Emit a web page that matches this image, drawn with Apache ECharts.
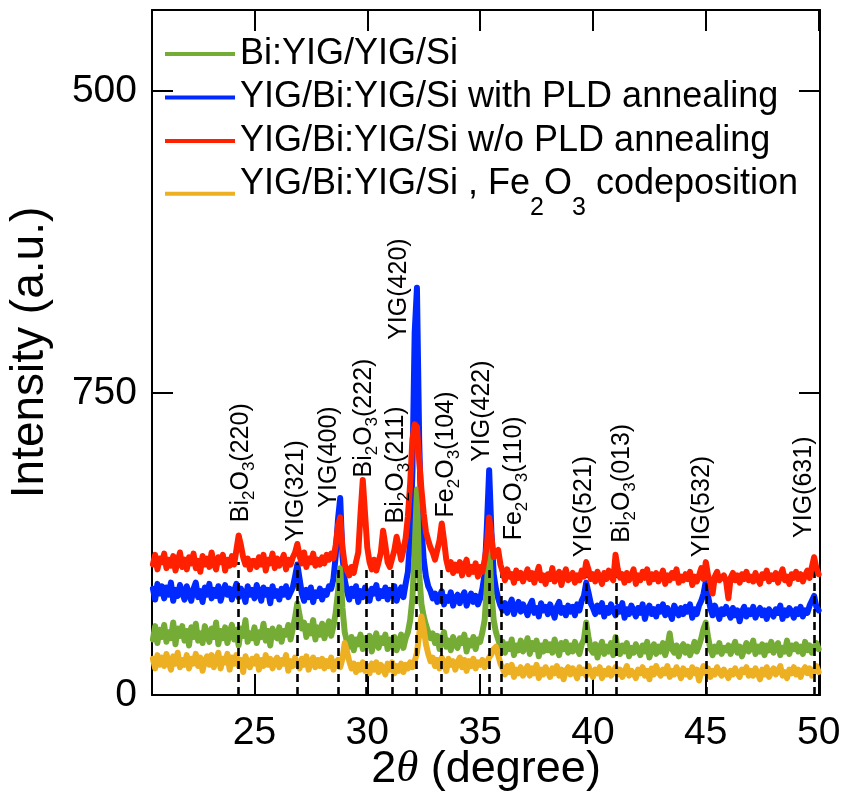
<!DOCTYPE html>
<html><head><meta charset="utf-8">
<script src="https://cdn.jsdelivr.net/npm/echarts@6/dist/echarts.min.js"></script>
<style>html,body{margin:0;padding:0;background:#fff}#c{width:843px;height:794px}</style>
</head><body><div id="c"></div>
<script>
// scan grid: 2theta from 20.5 to 50.0 deg, 0.1 deg steps
const scanStart = 20.5, scanStep = 0.1;

const seriesNames = ['Bi:YIG/YIG/Si', 'YIG/Bi:YIG/Si with PLD annealing', 'YIG/Bi:YIG/Si w/o PLD annealing', 'YIG/Bi:YIG/Si , Fe2O3 codeposition'];

const greenVals = [
46,57,43,54,48,
58,44,52,47,60,42,55,49,57,45,
53,41,56,48,59,45,51,43,57,50,
44,55,48,60,42,53,47,56,43,52,
58,46,54,41,55,49,62,44,51,47,
56,43,52,48,59,45,53,41,55,49,
47,56,44,53,50,58,46,55,64,76,
66,55,60,48,57,51,62,46,56,50,
59,47,55,61,49,57,68,85,105,72,
52,44,40,48,37,46,42,50,38,47,
41,49,36,45,51,39,47,43,50,38,
46,40,48,37,44,50,39,47,52,62,
80,120,170,100,75,65,58,52,47,51,
43,49,38,46,52,40,45,37,48,42,
39,47,43,50,36,45,41,48,38,46,
44,52,62,90,125,85,62,52,46,40,
44,35,42,38,46,33,41,37,45,36,
40,47,34,43,38,45,32,41,36,44,
37,42,35,46,39,33,43,38,44,35,
41,36,44,38,34,42,46,60,48,38,
35,42,31,39,44,34,40,36,43,33,
48,38,34,41,36,43,32,39,35,42,
37,33,41,36,44,31,38,42,34,40,
36,43,33,40,51,38,35,41,32,39,
42,35,40,33,38,44,36,41,47,55,
60,48,38,33,40,36,43,34,39,37,
41,34,39,44,35,40,32,38,43,36,
39,45,34,40,36,42,33,41,37,44,
35,40,43,33,39,36,45,34,41,38,
42,36,40,34,44,37,41,35,39,43,
38];

const blueVals = [
88,79,92,84,90,
80,89,83,93,78,87,82,91,85,79,
90,84,78,88,93,81,86,77,89,83,
92,80,87,82,90,78,85,91,83,88,
79,86,92,81,88,84,77,90,83,87,
80,91,85,78,89,83,87,76,90,82,
86,79,88,83,90,81,85,89,98,108,
96,84,78,87,81,89,77,85,82,88,
79,86,83,90,88,96,115,145,163,115,
95,86,79,88,82,90,77,86,81,89,
83,78,88,84,91,80,86,82,89,79,
87,82,90,78,85,89,81,92,102,130,
185,300,337,210,140,112,98,90,86,80,
84,77,82,86,75,81,78,85,74,80,
83,76,81,85,74,79,84,77,82,75,
80,88,100,140,186,135,100,88,80,74,
70,76,68,74,79,67,73,77,69,75,
71,66,74,78,68,72,65,76,70,73,
67,75,70,64,73,77,68,72,66,74,
69,73,66,75,70,78,82,93,85,76,
72,67,74,69,76,65,72,68,75,70,
66,73,69,76,64,71,67,74,70,65,
72,68,75,63,70,74,67,71,65,73,
69,75,66,72,68,63,74,70,66,72,
67,73,69,75,64,71,67,74,78,84,
94,82,72,66,74,69,63,71,67,73,
68,64,72,66,70,61,69,73,65,70,
67,73,64,69,72,66,70,63,71,68,
65,71,68,74,63,70,66,72,69,64,
71,67,73,65,70,68,74,78,82,73,
70];

const redVals = [
108,116,104,113,110,
117,105,112,107,115,103,111,118,106,112,
104,114,109,117,105,111,102,115,108,113,
106,118,109,104,114,110,116,103,112,107,
115,108,120,132,124,114,108,113,104,111,
111,106,114,108,116,103,112,109,117,105,
113,107,111,116,104,112,108,114,118,125,
115,109,118,106,113,110,117,107,112,108,
114,109,116,112,117,113,124,140,147,122,
108,103,99,106,101,110,118,150,178,150,
122,110,104,112,103,110,118,136,124,110,
106,113,120,131,122,112,120,130,148,175,
212,224,222,195,170,150,135,128,122,118,
112,120,128,142,128,112,104,110,101,108,
103,110,99,107,112,100,106,102,109,98,
106,102,112,124,147,132,114,118,120,108,
102,95,104,98,100,93,103,97,101,94,
99,104,96,101,93,100,106,95,99,92,
100,96,105,94,98,102,91,99,104,95,
97,101,93,99,95,103,98,110,104,96,
100,94,102,97,92,101,96,103,98,95,
116,104,97,100,93,101,95,99,104,92,
99,95,102,97,104,93,100,96,101,94,
98,103,92,99,95,101,97,104,93,98,
95,100,96,102,91,98,94,99,105,96,
110,99,93,84,98,102,95,97,99,94,
80,97,101,95,99,93,100,96,102,95,
98,94,101,96,92,100,97,103,94,99,
96,101,93,99,104,95,98,92,100,97,
102,96,100,94,99,103,97,106,114,105,
100];

const orangeVals = [
30,22,33,25,31,
24,34,27,21,32,26,35,23,29,25,
33,22,30,26,34,24,31,20,28,32,
25,33,23,29,35,22,30,27,34,21,
31,26,33,24,29,19,32,27,23,30,
26,32,21,29,24,33,25,30,22,28,
31,23,29,26,33,20,28,24,31,25,
22,30,25,32,21,27,31,23,29,24,
30,22,28,24,31,21,27,29,23,30,
43,36,28,22,26,19,25,21,27,20,
24,18,26,21,27,19,25,22,17,26,
21,27,18,24,20,26,19,25,22,27,
23,28,35,50,65,55,42,34,28,31,
24,29,22,31,26,20,30,25,28,21,
27,31,23,29,20,28,24,30,22,27,
25,29,23,27,31,34,38,40,33,26,
22,17,24,19,25,15,21,18,23,16,
20,24,16,22,18,25,14,21,17,23,
19,15,22,18,24,16,21,13,20,23,
17,22,19,14,23,18,21,16,24,19,
15,21,18,23,14,20,17,22,16,19,
23,17,21,15,19,24,16,20,18,14,
21,18,23,16,20,13,22,17,24,19,
16,21,18,24,15,20,17,23,19,14,
22,17,20,15,23,18,21,12,19,24,
18,22,15,20,17,23,19,16,21,18,
14,20,17,22,18,15,21,19,23,16,
20,16,22,18,13,21,17,23,15,19,
22,17,20,24,16,19,14,21,18,23,
17,21,15,20,23,18,22,16,20,24,
19];

// reference (dashed) lines: 2theta position and top of the dashed line
const peakPos = [24.30, 26.89, 28.72, 29.95, 31.11, 32.15, 33.27, 35.41, 35.94, 39.72, 41.03, 45.01, 49.81];
const peakTop = [110, 109, 106, 106, 105, 104, 105, 104, 105, 112, 114, 102, 105];
// peak annotation text and the anchor (start) of each rotated label
const peakNames = ['Bi{s|2}O{s|3}(220)', 'YIG(321)', 'YIG(400)', 'Bi{s|2}O{s|3}(222)', 'Bi{s|2}O{s|3}(211)', 'YIG(420)', 'Fe{s|2}O{s|3}(104)', 'YIG(422)', 'Fe{s|2}O{s|3}(110)', 'YIG(521)', 'Bi{s|2}O{s|3}(013)', 'YIG(532)', 'YIG(631)'];
const labelX = [24.41, 26.85, 28.32, 29.87, 31.28, 31.42, 33.49, 35.10, 36.52, 39.62, 41.30, 44.85, 49.37];
const labelY = [143, 127, 155, 180, 142, 294, 147, 193, 128, 114, 126, 114, 130];

const xTicks = [25, 30, 35, 40, 45, 50];
const yTicks = [0, 250, 500];
const yTickLabels = ['0', '750', '500'];

const FF = "'Liberation Sans', Arial, Helvetica, sans-serif";
const toXY = vals => vals.map((v, i) => [+(scanStart + i * scanStep).toFixed(2), v]);

const colors = { green: '#74AC35', blue: '#0029FF', red: '#FF2000', orange: '#ECB022' };

const chart = echarts.init(document.getElementById('c'), null, { renderer: 'canvas' });

function lineSeries(name, vals, color, z) {
  return {
    type: 'line', name, data: toXY(vals), showSymbol: false, symbol: 'none', z,
    lineStyle: { color, width: 6, join: 'round', cap: 'round' }, itemStyle: { color }, animation: false, silent: true
  };
}

const axisLine = { show: true, onZero: false, lineStyle: { color: '#000', width: 2 } };
const tickStyle = { color: '#000', width: 2 };

chart.setOption({
  animation: false,
  backgroundColor: '#fff',
  grid: { left: 152, right: 23, top: 10, bottom: 99, containLabel: false, outerBoundsMode: 'none' },
  legend: {
    data: seriesNames,
    orient: 'vertical', left: 165, top: 36, padding: 0, itemGap: 7.5,
    itemWidth: 70, itemHeight: 4, icon: 'rect', selectedMode: false,
    textStyle: {
      fontSize: 36, lineHeight: 35.5, color: '#000', fontFamily: FF,
      rich: {
        m: { fontSize: 36, fontFamily: FF, color: '#000', verticalAlign: 'top', lineHeight: 54.5 },
        sb: { fontSize: 25, fontFamily: FF, color: '#000', verticalAlign: 'bottom', lineHeight: 54.5 }
      }
    },
    formatter: name => name === seriesNames[3]
      ? '{m|YIG/Bi:YIG/Si , Fe}{sb|2}{m|O}{sb|3}{m| codeposition}'
      : name
  },
  xAxis: [{
    type: 'value', min: 20.46, max: 50.06, position: 'bottom',
    axisLine, splitLine: { show: false },
    axisTick: { show: true, inside: true, length: 21, customValues: xTicks, lineStyle: tickStyle },
    axisLabel: { customValues: xTicks, fontSize: 39, color: '#000', fontFamily: FF, margin: 19 },
    name: '2{th|θ} (degree)', nameLocation: 'middle', nameGap: 52, nameMoveOverlap: false,
    nameTextStyle: {
      fontSize: 45, color: '#000', fontFamily: FF,
      rich: { th: { fontSize: 45, fontStyle: 'italic', fontFamily: "'Liberation Serif', 'DejaVu Serif', serif", color: '#000' } }
    }
  }, {
    type: 'value', min: 20.46, max: 50.06, position: 'top',
    axisLine, splitLine: { show: false },
    axisTick: { show: true, inside: true, length: 21, customValues: xTicks, lineStyle: tickStyle },
    axisLabel: { show: false }
  }],
  yAxis: [{
    type: 'value', min: 0, max: 567, position: 'left',
    axisLine, splitLine: { show: false },
    axisTick: { show: true, inside: true, length: 21, customValues: yTicks, lineStyle: tickStyle },
    axisLabel: {
      customValues: yTicks, fontSize: 39, color: '#000', fontFamily: FF, margin: 15,
      formatter: v => yTickLabels[yTicks.indexOf(v)]
    },
    name: 'Intensity (a.u.)', nameLocation: 'middle', nameGap: 99,
    nameTextStyle: { fontSize: 46, color: '#000', fontFamily: FF }
  }, {
    type: 'value', min: 0, max: 567, position: 'right',
    axisLine, splitLine: { show: false },
    axisTick: { show: true, inside: true, length: 21, customValues: yTicks, lineStyle: tickStyle },
    axisLabel: { show: false }
  }],
  series: [
    lineSeries(seriesNames[1], blueVals, colors.blue, 2),
    lineSeries(seriesNames[0], greenVals, colors.green, 3),
    lineSeries(seriesNames[3], orangeVals, colors.orange, 4),
    lineSeries(seriesNames[2], redVals, colors.red, 5),
    {
      type: 'line', name: 'refs', data: [], z: 10, silent: true,
      markLine: {
        symbol: 'none', silent: true, animation: false, label: { show: false },
        lineStyle: { color: '#000', width: 2.6, type: [8, 5], opacity: 1 },
        data: peakPos.map((p, i) => [{ coord: [p, 0] }, { coord: [p, peakTop[i]] }])
      }
    },
    {
      type: 'scatter', name: 'labels', z: 11, silent: true, symbolSize: 0,
      itemStyle: { opacity: 1 },
      data: labelX.map((x, i) => [x, labelY[i]]),
      label: {
        show: true, position: 'top', distance: 0, rotate: 90, align: 'left', verticalAlign: 'middle',
        formatter: p => peakNames[p.dataIndex], opacity: 1,
        fontSize: 25, color: '#000', fontFamily: FF,
        rich: { s: { fontSize: 17, color: '#000', fontFamily: FF, padding: [16, 0, 0, 0] } }
      }
    }
  ]
});
</script>
</body></html>
